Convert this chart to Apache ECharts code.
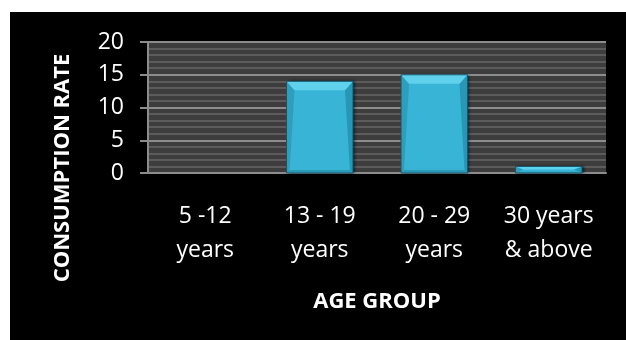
<!DOCTYPE html>
<html>
<head>
<meta charset="utf-8">
<script src="https://cdn.jsdelivr.net/npm/echarts@6/dist/echarts.min.js"></script>
<style>
  html, body { margin: 0; padding: 0; background: #ffffff; }
  #chart { position: absolute; left: 10px; top: 12px; width: 616px; height: 328px; }
</style>
</head>
<body>
<div id="chart"></div>
<script>
// Consumption rate by age group
const categories = ['5 -12\nyears', '13 - 19\nyears', '20 - 29\nyears', '30 years\n& above'];
const consumption = [0, 14, 15, 1];
const yTicks = { min: 0, max: 20, interval: 5 };

const FONT = '"Open Sans", "Noto Sans", sans-serif';

// Bevelled bar shape: flat face with a lighter top bevel and darker edges
function renderBevelBar(params, api) {
  const idx = api.value(0);
  const val = api.value(1);
  if (!val) return null;
  const top = api.coord([idx, val]);
  const base = api.coord([idx, 0]);
  const bw = api.size([1, 0])[0] * 0.58;
  const x0 = top[0] - bw / 2, x1 = top[0] + bw / 2;
  const y0 = top[1], y1 = base[1];
  const h = y1 - y0;
  const bt = Math.min(9, h * 0.45);   // top bevel depth
  const bi = Math.min(8, bw * 0.12);  // top bevel inset
  const bs = Math.min(3, bw * 0.05);  // side bevel width
  const bb = Math.min(3, h * 0.2);    // bottom bevel depth
  return {
    type: 'group',
    children: [
      {
        type: 'rect',
        shape: { x: x0, y: y0, width: bw, height: h },
        style: {
          fill: '#37b4d6',
          shadowBlur: 3,
          shadowOffsetX: 2,
          shadowColor: 'rgba(0,0,0,0.7)'
        }
      },
      {
        type: 'polygon',
        shape: { points: [[x0, y0], [x0 + bi, y0 + bt], [x0 + bs, y1 - bb], [x0, y1]] },
        style: { fill: '#2c9fbf' }
      },
      {
        type: 'polygon',
        shape: { points: [[x1, y0], [x1 - bi, y0 + bt], [x1 - bs, y1 - bb], [x1, y1]] },
        style: { fill: '#2a96b5' }
      },
      {
        type: 'polygon',
        shape: { points: [[x0, y1], [x0 + bs, y1 - bb], [x1 - bs, y1 - bb], [x1, y1]] },
        style: { fill: '#2b9ab9' }
      },
      {
        type: 'polygon',
        shape: { points: [[x0, y0], [x1, y0], [x1 - bi, y0 + bt], [x0 + bi, y0 + bt]] },
        style: { fill: '#60d1ed' }
      },
      {
        type: 'rect',
        shape: { x: x0, y: y0, width: bw, height: h },
        style: { fill: 'none', stroke: '#16566a', lineWidth: 1 }
      }
    ]
  };
}

const chart = echarts.init(document.getElementById('chart'), null, { renderer: 'canvas' });

chart.setOption({
  backgroundColor: '#000000',
  animation: false,
  textStyle: { fontFamily: FONT },
  grid: {
    left: 138, right: 20, top: 30, bottom: 167,
    show: true,
    backgroundColor: '#3d3d3d',
    borderWidth: 0
  },
  xAxis: {
    type: 'category',
    data: categories,
    axisLine: { show: true, lineStyle: { color: '#8c8c8c', width: 2 } },
    axisTick: { show: false },
    axisLabel: {
      color: '#ffffff',
      fontSize: 23,
      fontFamily: FONT,
      lineHeight: 34,
      margin: 26,
      interval: 0
    },
    name: 'AGE GROUP',
    nameLocation: 'middle',
    nameGap: 114,
    nameTextStyle: {
      color: '#ffffff',
      fontSize: 22,
      fontWeight: 'bold',
      fontFamily: FONT,
      lineHeight: 30
    }
  },
  yAxis: {
    type: 'value',
    min: yTicks.min,
    max: yTicks.max,
    interval: yTicks.interval,
    axisLine: { show: true, lineStyle: { color: '#8c8c8c', width: 2 } },
    axisTick: { show: true, length: 8, lineStyle: { color: '#8c8c8c', width: 2 } },
    axisLabel: {
      color: '#ffffff',
      fontSize: 23,
      fontFamily: FONT,
      margin: 24
    },
    splitLine: { show: true, lineStyle: { color: '#8c8c8c', width: 2 } },
    minorTick: { show: false, splitNumber: 5 },
    minorSplitLine: { show: true, lineStyle: { color: '#5c5c5c', width: 2 } }
  },
  graphic: [
    {
      type: 'text',
      x: 53,
      y: 156,
      rotation: Math.PI / 2,
      style: {
        text: 'CONSUMPTION RATE',
        fill: '#ffffff',
        font: 'bold 22px ' + FONT,
        align: 'center',
        verticalAlign: 'middle'
      }
    }
  ],
  series: [
    {
      type: 'custom',
      renderItem: renderBevelBar,
      encode: { x: 0, y: 1 },
      data: consumption.map((v, i) => [i, v])
    }
  ]
});
</script>
</body>
</html>
